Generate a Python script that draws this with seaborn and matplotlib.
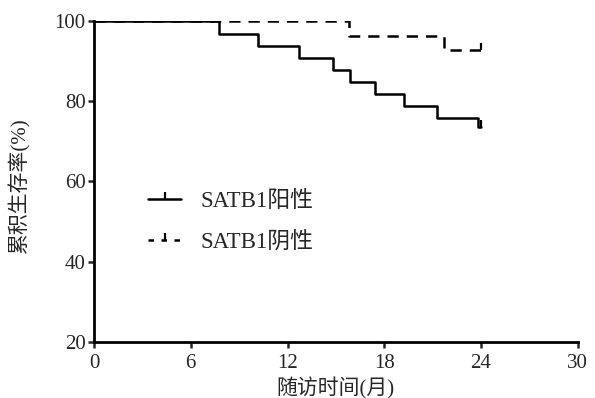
import numpy as np
import pandas as pd
import seaborn as sns
import matplotlib.pyplot as plt
from matplotlib.lines import Line2D

sns.set_style("ticks")
plt.rcParams['font.family'] = ['Liberation Serif', 'Noto Sans CJK SC']

## DATA
pos_time = [0, 7.75, 10.2, 12.7, 14.8, 15.9, 17.4, 19.2, 21.3, 23.8, 24]
pos_surv = [100, 96.9, 93.9, 90.9, 87.9, 84.8, 81.8, 78.8, 75.8, 73.6, 73.6]
neg_time = [0, 15.8, 21.7, 24]
neg_surv = [100, 96.4, 92.8, 92.8]
labels = ['SATB1阳性', 'SATB1阴性']
xticks = [0, 6, 12, 18, 24, 30]
yticks = [20, 40, 60, 80, 100]

pos = pd.DataFrame({'time': pos_time, 'surv': pos_surv})
neg = pd.DataFrame({'time': neg_time, 'surv': neg_surv})

fig = plt.figure(figsize=(5.95, 3.98), dpi=100)
ax = fig.add_axes([0.158, 0.141, 0.813, 0.806])

sns.lineplot(data=pos, x='time', y='surv', estimator=None, drawstyle='steps-post',
             color='black', lw=1.8, ax=ax)
sns.lineplot(data=neg, x='time', y='surv', estimator=None, drawstyle='steps-post',
             color='black', lw=1.8, linestyle=(0, (4.5, 3.2)), ax=ax)
# censor ticks at the end of follow-up
ax.plot([pos_time[-1]], [pos_surv[-1]], marker=2, color='black', ms=5, mew=1.6)
ax.plot([neg_time[-1]], [neg_surv[-1]], marker=2, color='black', ms=5, mew=1.6)

ax.set_xlim(0, 30)
ax.set_ylim(20, 100)
ax.set_xticks(xticks)
ax.set_yticks(yticks)
ax.tick_params(labelsize=15, width=1.8, length=4, direction='out', pad=2)
ax.tick_params(axis='x', pad=5)
sns.despine(ax=ax)
for s in ['left', 'bottom']:
    ax.spines[s].set_linewidth(2)
    ax.spines[s].set_color('black')

ax.set_xlabel('随访时间(月)', fontsize=15, va='center')
ax.xaxis.set_label_coords(0.5, -0.145)
ax.set_ylabel('累积生存率(%)', fontsize=15, va='center')
ax.yaxis.set_label_coords(-0.155, 0.49)

handles = [Line2D([], [], color='black', lw=1.8, marker=2, ms=5, mew=1.6),
           Line2D([], [], color='black', lw=1.8, linestyle=(0, (2.2, 3)), marker=2, ms=5, mew=1.6)]
ax.legend(handles, labels, loc='center left', bbox_to_anchor=(0.112, 0.375),
          frameon=False, fontsize=16.5, handlelength=1.45, handletextpad=0.85,
          labelspacing=0.85, borderpad=0, borderaxespad=0, markerfirst=True)

fig.savefig('out.png', dpi=100)
